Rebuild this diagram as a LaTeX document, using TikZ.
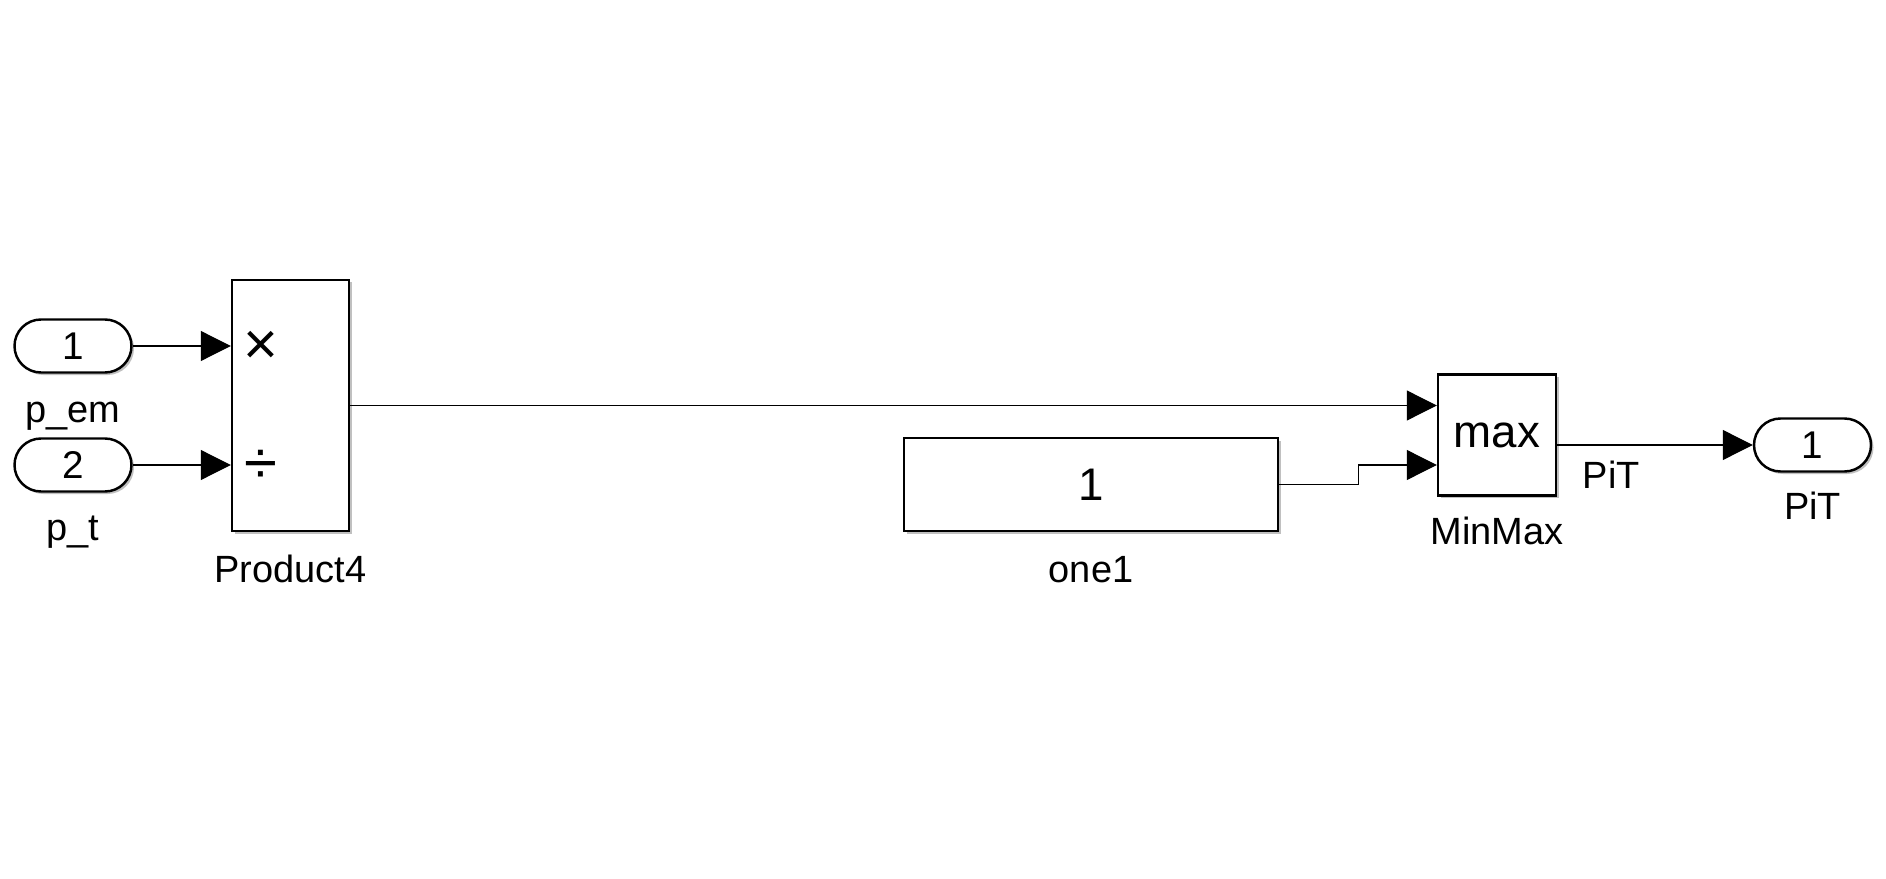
\documentclass[tikz,border=0pt]{standalone}
\usepackage{fontspec}
\setmainfont{Liberation Sans}
\usepackage{tikz}
\usetikzlibrary{arrows.meta, positioning, shapes.misc, shadows}

\begin{document}
\begin{tikzpicture}[x=0.2mm, y=-0.2mm,
		shd/.style = {drop shadow={shadow xshift=0.5mm, shadow yshift=-0.5mm, fill=gray!70, opacity=0.7}},
		blk/.style = {draw, line width=1.4pt, fill=white, shd, inner sep=0pt, font=\fontsize{26}{30}\selectfont},
		port/.style = {draw, rounded rectangle, line width=1.4pt, fill=white, shd, minimum width=23.4mm, minimum height=10.6mm, inner sep=0pt, font=\fontsize{22}{26}\selectfont},
		lbl/.style = {inner sep=0pt, font=\fontsize{21.6}{26}\selectfont},
		sym/.style = {inner sep=0pt, font=\fontsize{34}{38}\selectfont},
		sig/.style = {line width=0.65pt, -{Triangle[length=6mm, width=6mm]}}
	]
	\useasboundingbox (0,0) rectangle (1886,879);
	\fill[white] (0,0) rectangle (1886,879);

	\node[port] (in1) at (73,346) {1};
	\node[port] (in2) at (73,465) {2};
	\node[blk, minimum width=23.4mm, minimum height=50.2mm] (prod) at (290.5,405.5) {};
	\node[sym] (mul) at (261,348) {×};
	\node[sym] (dvd) at (261,467) {÷};
	\node[blk, minimum width=74.8mm, minimum height=18.6mm] (one1) at (1091,484.5) {1};
	\node[blk, minimum width=23.6mm, minimum height=24.2mm] (minmax) at (1497,435) {max};
	\node[port] (out1) at (1812.5,445) {1};

	\node[lbl, below=9.8mm of in1, anchor=base] (in1name) {p\_em};
	\node[lbl, below=9.6mm of in2, anchor=base] (in2name) {p\_t};
	\node[lbl, below=10mm of prod, anchor=base] (prodname) {Product4};
	\node[lbl, below=10mm of one1, anchor=base] (one1name) {one1};
	\node[lbl, below=9.6mm of minmax, anchor=base] (minmaxname) {MinMax};
	\node[lbl, below=9.4mm of out1, anchor=base] (out1name) {PiT};

	\coordinate (mmin2) at ([yshift=-6mm]minmax.west);
	\draw[sig] (in1.east) -- (in1.east -| prod.west);
	\draw[sig] (in2.east) -- (in2.east -| prod.west);
	\draw[sig] (prod.east) -- (prod.east -| minmax.west);
	\draw[sig] (one1.east) -- ++(15.8mm,0) |- (mmin2);
	\draw[sig] (out1.west -| minmax.east) -- node[lbl, at start, anchor=base west, xshift=5mm, yshift=-8.6mm] (signame) {PiT} (out1.west);
\end{tikzpicture}
\end{document}
